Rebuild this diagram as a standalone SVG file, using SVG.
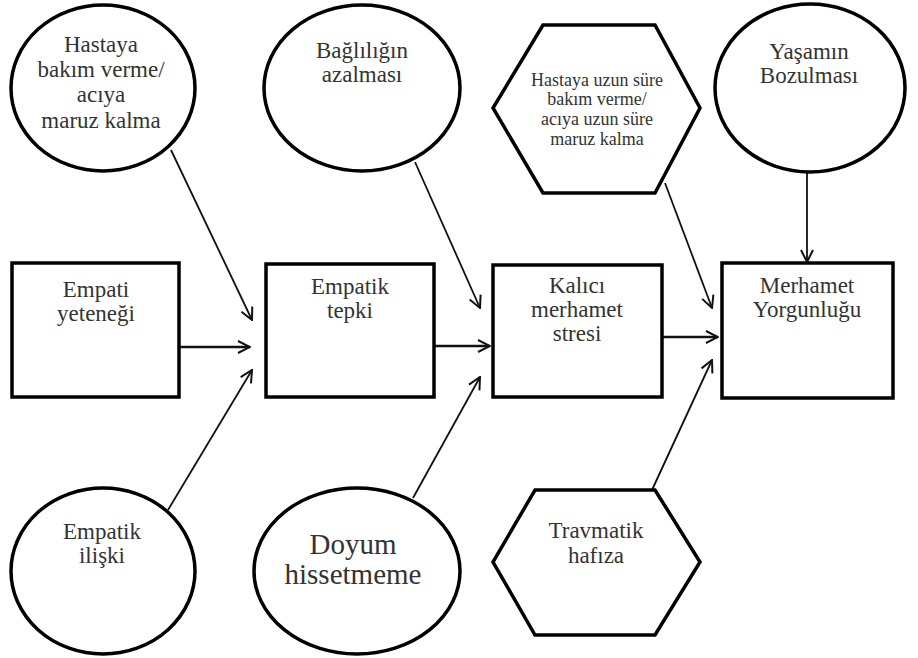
<svg xmlns="http://www.w3.org/2000/svg" width="918" height="658" viewBox="0 0 918 658">
<style>
.s{fill:#fff;stroke:#000;stroke-width:3.5}
text{fill:#333;text-anchor:middle;font-size:23px}
.h{font-size:18px}
.d{font-size:29px}
.c{stroke:#111;stroke-width:1.8;fill:none;marker-end:url(#ah)}
.w{stroke-width:2.5}
</style>
<defs>
<marker id="ah" viewBox="0 0 14 14" refX="13" refY="7" markerWidth="14" markerHeight="14" markerUnits="userSpaceOnUse" orient="auto">
<path d="M1,1 L13,7 L1,13" fill="none" stroke="#111" stroke-width="2"/>
</marker>
</defs>
<rect width="918" height="658" fill="#fff"/>
<g id="connectors">
<line class="c" x1="171" y1="150" x2="252" y2="320"/>
<line class="c w" x1="178" y1="347" x2="250" y2="347"/>
<line class="c" x1="168" y1="510" x2="252" y2="370"/>
<line class="c" x1="415" y1="162" x2="480" y2="308"/>
<line class="c w" x1="435" y1="346" x2="490" y2="346"/>
<line class="c" x1="413" y1="498" x2="480" y2="377"/>
<line class="c" x1="665" y1="183" x2="712" y2="308"/>
<line class="c w" x1="662" y1="337" x2="718" y2="337"/>
<line class="c" x1="652" y1="490" x2="712" y2="360"/>
<line class="c" x1="807" y1="172" x2="807" y2="262"/>
</g>
<g font-family="Liberation Serif, Times New Roman, serif">
<g id="n-hastaya-bakim">
<ellipse class="s" cx="103" cy="88" rx="92" ry="83"/>
<text x="101" y="52">Hastaya</text>
<text x="101" y="77">bakım verme/</text>
<text x="101" y="102">acıya</text>
<text x="101" y="128">maruz kalma</text>
</g>
<g id="n-baglilik">
<ellipse class="s" cx="362" cy="88" rx="98" ry="83"/>
<text x="362" y="58">Bağlılığın</text>
<text x="362" y="82">azalması</text>
</g>
<g id="n-uzun-sure">
<polygon class="s" points="543,25 655,25 700,108 655,193 543,193 493,108"/>
<text class="h" x="597" y="86">Hastaya uzun süre</text>
<text class="h" x="597" y="105">bakım verme/</text>
<text class="h" x="597" y="125">acıya uzun süre</text>
<text class="h" x="597" y="145">maruz kalma</text>
</g>
<g id="n-yasamin">
<ellipse class="s" cx="810" cy="88" rx="95" ry="84"/>
<text x="809" y="59">Yaşamın</text>
<text x="809" y="83">Bozulması</text>
</g>
<g id="n-empati-yetenegi">
<rect class="s" x="12" y="263" width="167" height="134"/>
<text x="96" y="297">Empati</text>
<text x="96" y="321">yeteneği</text>
</g>
<g id="n-empatik-tepki">
<rect class="s" x="266" y="264" width="168" height="133"/>
<text x="350" y="294">Empatik</text>
<text x="350" y="318">tepki</text>
</g>
<g id="n-kalici">
<rect class="s" x="493" y="265" width="169" height="132"/>
<text x="577" y="293">Kalıcı</text>
<text x="577" y="317">merhamet</text>
<text x="577" y="341">stresi</text>
</g>
<g id="n-merhamet-yorgunlugu">
<rect class="s" x="722" y="263" width="171" height="135"/>
<text x="807" y="293">Merhamet</text>
<text x="807" y="317">Yorgunluğu</text>
</g>
<g id="n-empatik-iliski">
<ellipse class="s" cx="103" cy="571" rx="92" ry="83"/>
<text x="102" y="539">Empatik</text>
<text x="102" y="563">ilişki</text>
</g>
<g id="n-doyum">
<ellipse class="s" cx="357" cy="571" rx="103" ry="83"/>
<text class="d" x="353" y="554">Doyum</text>
<text class="d" x="353" y="584">hissetmeme</text>
</g>
<g id="n-travmatik">
<polygon class="s" points="535,490 655,490 700,562 655,635 535,635 493,562"/>
<text x="596" y="538">Travmatik</text>
<text x="596" y="563">hafıza</text>
</g>
</g>
</svg>
